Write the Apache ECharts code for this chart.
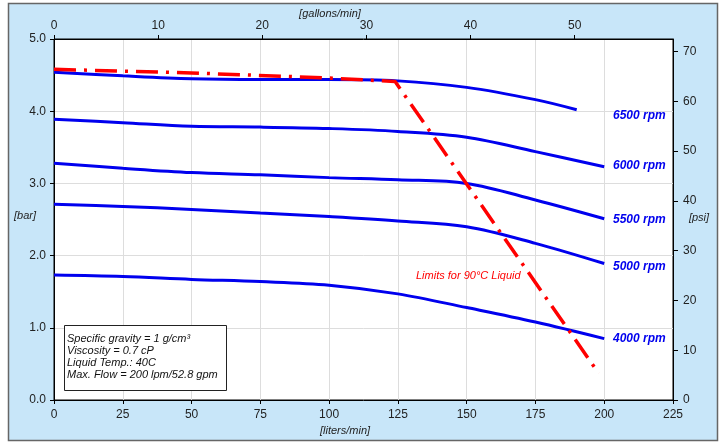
<!DOCTYPE html>
<html>
<head>
    <meta charset="utf-8">
    <title>Pump curves</title>
    <script src="https://cdn.jsdelivr.net/npm/echarts@6/dist/echarts.min.js"></script>
    <style>
        html, body { margin: 0; padding: 0; background: #fff; }
        #main { width: 726px; height: 442px; }
    </style>
</head>
<body>
<div id="main"></div>
<script type="text/javascript">
    // flow [liters/min] vs pressure [bar]
    var rpm6500 = [[0, 4.54], [25, 4.49], [50, 4.45], [75, 4.44], [100, 4.44], [125, 4.42], [150, 4.33], [175, 4.16], [190, 4.02]];
    var rpm6000 = [[0, 3.89], [25, 3.84], [50, 3.79], [75, 3.78], [100, 3.76], [125, 3.72], [150, 3.64], [175, 3.44], [200, 3.23]];
    var rpm5500 = [[0, 3.28], [25, 3.21], [50, 3.15], [75, 3.12], [100, 3.08], [125, 3.05], [150, 3.00], [175, 2.77], [200, 2.51]];
    var rpm5000 = [[0, 2.71], [25, 2.68], [50, 2.64], [75, 2.59], [100, 2.54], [125, 2.48], [150, 2.40], [175, 2.17], [200, 1.89]];
    var rpm4000 = [[0, 1.73], [25, 1.71], [50, 1.67], [75, 1.64], [100, 1.59], [125, 1.47], [150, 1.28], [175, 1.08], [200, 0.85]];
    var limit90 = [[0, 4.58], [50, 4.53], [100, 4.46], [124, 4.41], [198, 0.37]];

    var curveNames = ['6500 rpm', '6000 rpm', '5500 rpm', '5000 rpm', '4000 rpm'];
    var curveData = [rpm6500, rpm6000, rpm5500, rpm5000, rpm4000];
    var labelY = [116, 166, 220, 267, 339];

    var infoLines = [
        'Specific gravity = 1 g/cm\u00B3',
        'Viscosity = 0.7 cP',
        'Liquid Temp.: 40C',
        'Max. Flow = 200 lpm/52.8 gpm'
    ];

    var LPM_PER_GPM = 3.785;
    var PSI_PER_BAR = 14.504;
    var font = '"Liberation Sans", Arial, sans-serif';
    var tickText = {color: '#222', fontSize: 12, fontFamily: font};

    var series = [];
    for (var i = 0; i < curveData.length; i++) {
        series.push({
            name: curveNames[i],
            type: 'line',
            data: curveData[i],
            smooth: 0.35,
            showSymbol: false,
            silent: true,
            lineStyle: {color: '#0000ee', width: 3}
        });
    }
    series.push({
        name: 'Limits for 90°C Liquid',
        type: 'line',
        data: limit90,
        showSymbol: false,
        silent: true,
        lineStyle: {color: '#ff0000', width: 3.5, type: [22, 8, 3, 8]}
    });

    var graphics = [
        {
            type: 'rect', z: -10, silent: true,
            shape: {x: 8.5, y: 3.5, width: 709, height: 437},
            style: {fill: '#c8e6f9', stroke: '#666', lineWidth: 1.5}
        },
        {type: 'text', z: 100, style: {text: '[gallons/min]', x: 330, y: 14, align: 'center', verticalAlign: 'middle', font: 'italic 11px ' + font, fill: '#222'}},
        {type: 'text', z: 100, style: {text: '[liters/min]', x: 345, y: 431, align: 'center', verticalAlign: 'middle', font: 'italic 11px ' + font, fill: '#222'}},
        {type: 'text', z: 100, style: {text: '[bar]', x: 25, y: 216, align: 'center', verticalAlign: 'middle', font: 'italic 11px ' + font, fill: '#222'}},
        {type: 'text', z: 100, style: {text: '[psi]', x: 699, y: 218, align: 'center', verticalAlign: 'middle', font: 'italic 11px ' + font, fill: '#222'}},
        {type: 'text', z: 100, style: {text: 'Limits for 90°C Liquid', x: 416, y: 276, verticalAlign: 'middle', font: 'italic 11px ' + font, fill: '#ff0000'}},
        {
            type: 'rect', z: 90, silent: true,
            shape: {x: 64.5, y: 325.5, width: 162, height: 65},
            style: {fill: '#fff', stroke: '#222', lineWidth: 1}
        }
    ];
    for (var j = 0; j < curveNames.length; j++) {
        graphics.push({type: 'text', z: 100, style: {text: curveNames[j], x: 613, y: labelY[j], verticalAlign: 'middle', font: 'italic bold 12px ' + font, fill: '#0000ee'}});
    }
    for (var k = 0; k < infoLines.length; k++) {
        graphics.push({type: 'text', z: 100, style: {text: infoLines[k], x: 67, y: 339 + k * 12, verticalAlign: 'middle', font: 'italic 11px ' + font, fill: '#111'}});
    }

    var option = {
        animation: false,
        backgroundColor: '#fff',
        grid: {
            left: 54, right: 53, top: 39, bottom: 42,
            show: true,
            backgroundColor: '#fff',
            borderColor: '#000',
            borderWidth: 1
        },
        xAxis: [
            {
                type: 'value', position: 'bottom',
                min: 0, max: 225, interval: 25,
                axisLine: {show: true, onZero: false, lineStyle: {color: '#000'}},
                axisTick: {show: true, length: 4, lineStyle: {color: '#000'}},
                axisLabel: Object.assign({margin: 9}, tickText),
                splitLine: {show: true, lineStyle: {color: '#dddddd'}}
            },
            {
                type: 'value', position: 'top',
                min: 0, max: 225 / LPM_PER_GPM, interval: 10,
                axisLine: {show: true, onZero: false, lineStyle: {color: '#000'}},
                axisTick: {show: true, length: 4, lineStyle: {color: '#000'}},
                axisLabel: Object.assign({margin: 7, showMaxLabel: false}, tickText),
                splitLine: {show: false}
            }
        ],
        yAxis: [
            {
                type: 'value', position: 'left',
                min: 0, max: 5, interval: 1,
                axisLine: {show: true, onZero: false, lineStyle: {color: '#000'}},
                axisTick: {show: true, length: 4, lineStyle: {color: '#000'}},
                axisLabel: Object.assign({margin: 8, formatter: function (v) { return v.toFixed(1); }}, tickText),
                splitLine: {show: true, lineStyle: {color: '#dddddd'}}
            },
            {
                type: 'value', position: 'right',
                min: 0, max: 5 * PSI_PER_BAR, interval: 10,
                axisLine: {show: true, onZero: false, lineStyle: {color: '#000'}},
                axisTick: {show: true, length: 5, lineStyle: {color: '#000'}},
                axisLabel: Object.assign({margin: 10, showMaxLabel: false}, tickText),
                splitLine: {show: false}
            }
        ],
        series: series,
        graphic: graphics
    };

    var myChart = echarts.init(document.getElementById('main'));
    myChart.setOption(option);
</script>
</body>
</html>
